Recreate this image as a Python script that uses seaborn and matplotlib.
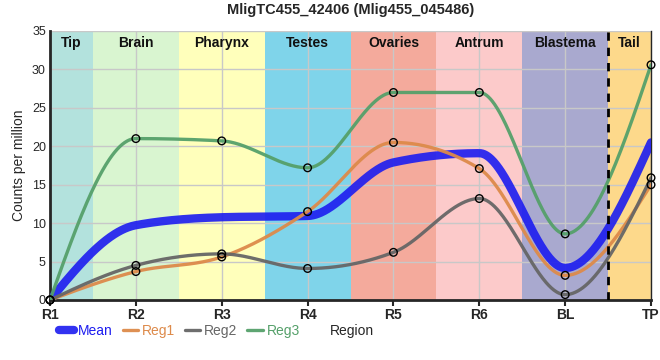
import numpy as np
import pandas as pd
import seaborn as sns
import matplotlib.pyplot as plt

# data
regions = ['R1', 'R2', 'R3', 'R4', 'R5', 'R6', 'BL', 'TP']
reg1 = [0, 3.7, 5.6, 11.5, 20.5, 17.1, 3.2, 15.0]
reg2 = [0, 4.5, 6.0, 4.1, 6.2, 13.2, 0.7, 15.9]
reg3 = [0, 21.0, 20.7, 17.2, 27.0, 27.0, 8.6, 30.6]
band_names = ['Tip', 'Brain', 'Pharynx', 'Testes', 'Ovaries', 'Antrum', 'Blastema', 'Tail']
band_colors = ['#b3e2dd', '#d9f5d0', '#ffffbb', '#7fd4ea', '#f4aa9c', '#fccaca', '#a9a9cf', '#fdd98b']

series = {'Reg1': reg1, 'Reg2': reg2, 'Reg3': reg3}
series_colors = {'Reg1': '#dd8a4a', 'Reg2': '#666666', 'Reg3': '#55a06a'}
mean = np.mean([reg1, reg2, reg3], axis=0)


def monotone(x, y, xs):
    # monotone cubic like d3.curveMonotoneX (Steffen slopes)
    x = np.asarray(x, float); y = np.asarray(y, float)
    h = np.diff(x); s = np.diff(y) / h
    n = len(x); m = np.zeros(n)
    for k in range(1, n - 1):
        p = (s[k - 1] * h[k] + s[k] * h[k - 1]) / (h[k - 1] + h[k])
        m[k] = (np.sign(s[k - 1]) + np.sign(s[k])) * min(abs(s[k - 1]), abs(s[k]), 0.5 * abs(p))
    m[0] = (3 * s[0] - m[1]) / 2
    m[-1] = (3 * s[-1] - m[-2]) / 2
    idx = np.clip(np.searchsorted(x, xs) - 1, 0, n - 2)
    t = (xs - x[idx]) / h[idx]
    h00 = 2 * t**3 - 3 * t**2 + 1; h10 = t**3 - 2 * t**2 + t
    h01 = -2 * t**3 + 3 * t**2; h11 = t**3 - t**2
    return h00 * y[idx] + h10 * h[idx] * m[idx] + h01 * y[idx + 1] + h11 * h[idx] * m[idx + 1]


xpos = np.arange(len(regions))
xs = np.linspace(0, len(regions) - 1, 700)

sns.set_style('white')
plt.rcParams['font.family'] = ['Liberation Sans', 'DejaVu Sans']

fig = plt.figure(figsize=(6.6, 3.6), dpi=100)
ax = fig.add_axes([0.0758, 0.1667, 0.9106, 0.7472])

# background bands
for i, (name, c) in enumerate(zip(band_names, band_colors)):
    lo = max(i - 0.5, 0); hi = min(i + 0.5, len(regions) - 1)
    ax.axvspan(lo, hi, color=c, lw=0, zorder=0)
    ax.text((lo + hi) / 2, 34.3, name, ha='center', va='top', fontsize=10,
            fontweight='bold', color='#111111', zorder=5)
ax.axvline(6.5, color='black', lw=2, ls=(0, (3, 2.5)), zorder=4)

for v in range(0, 36, 5):
    ax.axhline(v, color='#c8c8c8', lw=1, zorder=1)
for xp in xpos:
    ax.axvline(xp, color='#c8c8c8', lw=1, zorder=1)

curves = pd.DataFrame({'x': xs, 'y': monotone(xpos, mean, xs)})
sns.lineplot(data=curves, x='x', y='y', ax=ax, color='#1c1cf0', alpha=0.9,
             lw=6, label='Mean', zorder=3)
for name, vals in series.items():
    cd = pd.DataFrame({'x': xs, 'y': monotone(xpos, vals, xs)})
    sns.lineplot(data=cd, x='x', y='y', ax=ax, color=series_colors[name],
                 lw=2.4, alpha=0.95, label=name, zorder=3)
for name, vals in series.items():
    pts = pd.DataFrame({'x': xpos, 'y': vals})
    sns.scatterplot(data=pts, x='x', y='y', ax=ax, s=30, facecolor='none',
                    edgecolor='black', linewidth=1, zorder=6, legend=False, clip_on=False)

ax.set_xlim(0, len(regions) - 1)
ax.set_ylim(0, 35)
ax.set_xticks(xpos)
ax.set_xticklabels(regions, fontsize=10, fontweight='bold')
ax.set_yticks(range(0, 36, 5))
ax.tick_params(axis='y', labelsize=9, length=0, pad=3)
ax.tick_params(axis='x', length=4, width=1.5, pad=2, direction='out', bottom=True)
for sp in ['left', 'bottom']:
    ax.spines[sp].set_linewidth(2)
ax.spines['right'].set_linewidth(1)
ax.spines['top'].set_visible(False)
ax.set_xlabel('')
ax.set_ylabel('Counts per million', fontsize=10)
ax.set_title('MligTC455_42406 (Mlig455_045486)', fontsize=10.5, fontweight='bold', pad=12)

h, l = ax.get_legend_handles_labels()
ax.legend_.remove()
fig.legend(h, l, loc='center left', bbox_to_anchor=(0.07, 0.08), ncol=4, frameon=False,
           fontsize=10, handlelength=1.1, handletextpad=0.3, columnspacing=0.7,
           labelcolor='linecolor')
fig.text(0.533, 0.08, 'Region', ha='center', va='center', fontsize=10)

fig.savefig('out.png', dpi=100)
